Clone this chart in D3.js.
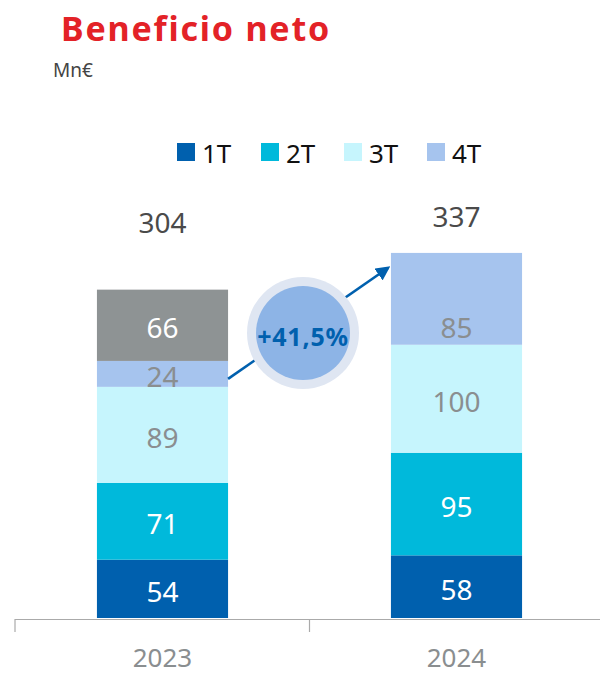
<!DOCTYPE html>
<html lang="es">
<head>
<meta charset="UTF-8">
<title>Beneficio neto</title>
<script src="https://d3js.org/d3.v7.min.js"></script>
<style>
    body { margin: 0; background: #fff; font-family: 'Noto Sans', sans-serif; }
    .seg-label { font-size: 28px; text-anchor: middle; dominant-baseline: central; }
    .total { font-size: 28px; fill: #4a4a4a; text-anchor: middle; }
    .year { font-size: 26px; fill: #8a8e90; text-anchor: middle; }
    .legend text { font-size: 26px; fill: #111; dominant-baseline: central; }
</style>
</head>
<body>
<div id="chart"></div>
<script>
    const years = ["2023", "2024"];
    const series = ["1T", "2T", "3T", "4T", "extra"];
    const legendKeys = ["1T", "2T", "3T", "4T"];
    const q1 = [54, 58];
    const q2 = [71, 95];
    const q3 = [89, 100];
    const q4 = [24, 85];
    const extra = [66, 0];
    const totals = [304, 337];
    const growthLabel = "+41,5%";

    const colors = { "1T": "#0060ae", "2T": "#00b9db", "3T": "#c6f5fd", "4T": "#a6c4ee", "extra": "#8e9394" };
    const labelColors = { "1T": "#fff", "2T": "#fff", "3T": "#8a8e90", "4T": "#8a8e90", "extra": "#fff" };

    const width = 600, height = 676;
    const svg = d3.select("#chart").append("svg")
        .attr("width", width)
        .attr("height", height);

    const rows = years.map((yr, i) => ({
        year: yr, "1T": q1[i], "2T": q2[i], "3T": q3[i], "4T": q4[i], "extra": extra[i]
    }));
    const stacked = d3.stack().keys(series)(rows);

    const x = d3.scaleBand().domain(years).range([15.5, 603.5])
        .paddingInner(0.554).paddingOuter(0.277);
    const y = d3.scaleLinear().domain([0, 337]).range([618, 254]);

    // title
    svg.append("text").attr("x", 61).attr("y", 41)
        .style("font-size", "34px").style("font-weight", "bold")
        .style("letter-spacing", "1.8px").attr("fill", "#e32227")
        .text("Beneficio neto");
    svg.append("text").attr("x", 53).attr("y", 77)
        .style("font-size", "19px").attr("fill", "#444")
        .text("Mn€");

    // legend
    const legendX = [177, 261, 344, 427];
    const legend = svg.append("g").attr("class", "legend");
    legendKeys.forEach((k, i) => {
        legend.append("rect").attr("x", legendX[i]).attr("y", 143)
            .attr("width", 18).attr("height", 18).attr("fill", colors[k]);
        legend.append("text").attr("x", legendX[i] + 25).attr("y", 153).text(k);
    });

    // bars
    stacked.forEach(layer => {
        const key = layer.key;
        layer.forEach((d, i) => {
            const v = d[1] - d[0];
            if (!v) return;
            svg.append("rect")
                .attr("x", x(years[i]))
                .attr("y", y(d[1]))
                .attr("width", x.bandwidth())
                .attr("height", y(d[0]) - y(d[1]))
                .attr("fill", colors[key]);
            let ly = (y(d[0]) + y(d[1])) / 2;
            if (key === "4T" && i === 1) ly = y(d[0]) - 20;
            svg.append("text").attr("class", "seg-label")
                .attr("x", x(years[i]) + x.bandwidth() / 2)
                .attr("y", ly + 2)
                .attr("fill", labelColors[key])
                .text(v);
        });
    });

    // totals
    const totalOffset = [57, 27];
    totals.forEach((t, i) => {
        svg.append("text").attr("class", "total")
            .attr("x", x(years[i]) + x.bandwidth() / 2)
            .attr("y", y(t) - totalOffset[i])
            .text(t);
    });

    // axis
    svg.append("line").attr("x1", 15).attr("x2", 600).attr("y1", 619.5).attr("y2", 619.5)
        .attr("stroke", "#aaa").attr("stroke-width", 1.2);
    [15, x(years[1]) - (x.step() - x.bandwidth()) / 2].forEach(tx => {
        svg.append("line").attr("x1", tx).attr("x2", tx).attr("y1", 619).attr("y2", 632)
            .attr("stroke", "#aaa").attr("stroke-width", 1.2);
    });
    years.forEach(yr => {
        svg.append("text").attr("class", "year")
            .attr("x", x(yr) + x.bandwidth() / 2).attr("y", 667).text(yr);
    });

    // growth arrow + bubble
    const defs = svg.append("defs");
    defs.append("marker").attr("id", "arrow")
        .attr("viewBox", "0 0 10 10").attr("refX", 8).attr("refY", 5)
        .attr("markerWidth", 5.5).attr("markerHeight", 5.5).attr("orient", "auto")
        .append("path").attr("d", "M0,0 L10,5 L0,10 z").attr("fill", "#0060ae");

    const ax1 = x(years[0]) + x.bandwidth(), ay1 = y(q1[0] + q2[0] + q3[0]) - 8;
    const ax2 = x(years[1]) - 3, ay2 = y(totals[1]) + 14;
    svg.append("line").attr("x1", ax1).attr("y1", ay1).attr("x2", ax2).attr("y2", ay2)
        .attr("stroke", "#0060ae").attr("stroke-width", 2.6).attr("marker-end", "url(#arrow)");

    const cx = 303, cy = 333;
    svg.append("circle").attr("cx", cx).attr("cy", cy).attr("r", 56).attr("fill", "#dfe6f2");
    svg.append("circle").attr("cx", cx).attr("cy", cy).attr("r", 47).attr("fill", "#8db4e6");
    svg.append("text").attr("x", cx).attr("y", cy + 3)
        .attr("text-anchor", "middle").attr("dominant-baseline", "central")
        .style("font-size", "25px").style("font-weight", "bold")
        .style("letter-spacing", "0.8px").attr("fill", "#0060ae")
        .text(growthLabel);
</script>
</body>
</html>
